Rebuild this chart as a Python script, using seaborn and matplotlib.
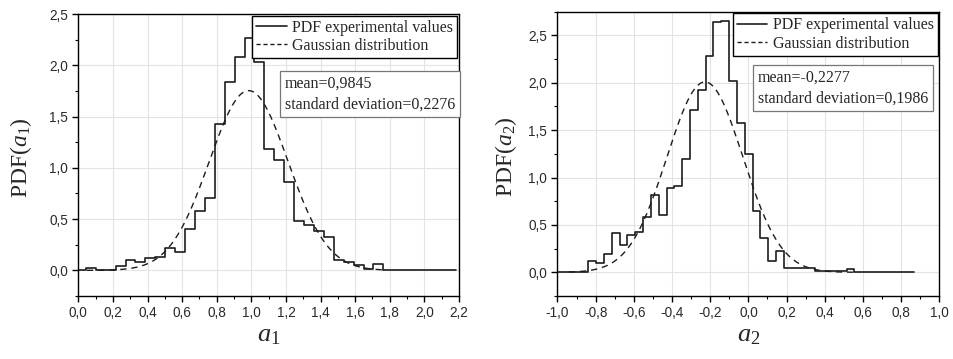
import numpy as np
import pandas as pd
import matplotlib
matplotlib.use("Agg")
import matplotlib.pyplot as plt
import seaborn as sns
from matplotlib.lines import Line2D
from matplotlib.ticker import MultipleLocator, FuncFormatter

# ---------------- data: panel a1 ----------------
a1_bin_start = 0.044
a1_bin_width = 0.0573
a1_pdf = [0.02, 0.0, 0.0, 0.04, 0.10, 0.085, 0.12, 0.135, 0.22, 0.18,
          0.40, 0.58, 0.71, 1.43, 1.84, 2.08, 2.27, 2.03, 1.185, 1.08,
          0.86, 0.48, 0.44, 0.38, 0.325, 0.105, 0.08, 0.05, 0.015, 0.065]
a1_line_extent = (0.0, 2.185)
a1_mean = 0.9845
a1_std = 0.2276
a1_gauss_range = (0.05, 1.76)
a1_xticks = [0.0, 0.2, 0.4, 0.6, 0.8, 1.0, 1.2, 1.4, 1.6, 1.8, 2.0, 2.2]

# ---------------- data: panel a2 ----------------
a2_bin_start = -0.839
a2_bin_width = 0.041
a2_pdf = [0.12, 0.10, 0.19, 0.41, 0.29, 0.39, 0.43, 0.58, 0.82, 0.60,
          0.89, 0.91, 1.20, 1.71, 1.92, 2.28, 2.64, 2.65, 2.02, 1.58,
          1.25, 0.65, 0.36, 0.12, 0.22, 0.05, 0.05, 0.05, 0.05, 0.01,
          0.01, 0.01, 0.01, 0.03]
a2_line_extent = (-1.0, 0.865)
a2_mean = -0.2277
a2_std = 0.1986
a2_gauss_range = (-0.94, 0.55)
a2_xticks = [-1.0, -0.8, -0.6, -0.4, -0.2, 0.0, 0.2, 0.4, 0.6, 0.8, 1.0]

legend_labels = ["PDF experimental values", "Gaussian distribution"]

sns.set_theme(style="white")
plt.rcParams["font.family"] = ["Liberation Sans", "DejaVu Sans"]
plt.rcParams["mathtext.fontset"] = "custom"
plt.rcParams["mathtext.rm"] = "Liberation Serif"
plt.rcParams["mathtext.it"] = "Liberation Serif:italic"

LINE = "#1c1c1c"
SERIF = ["Liberation Serif", "DejaVu Serif"]

fig = plt.figure(figsize=(9.54, 3.59), dpi=100)
ax1 = fig.add_axes([78.3 / 954, 1 - 296 / 359, (459 - 78.3) / 954, (296 - 14) / 359])
ax2 = fig.add_axes([557.5 / 954, 1 - 296 / 359, (939.3 - 557.5) / 954, (296 - 11.7) / 359])

comma = FuncFormatter(lambda v, p: ("%.1f" % v).replace(".", ",").replace("-0,0", "0,0"))


def draw_panel(ax, start, width, pdf, extent, mean, std, grange, xticks, ylim,
               ylabel, xlabel, text, text_xy, ylab_x):
    inner = [start + width * i for i in range(len(pdf) + 1)]
    edges = [extent[0]] + inner + [extent[1]]
    weights = [0.0] + list(pdf) + [0.0]
    centers = [0.5 * (edges[i] + edges[i + 1]) for i in range(len(edges) - 1)]
    hist_df = pd.DataFrame({"x": centers, "w": weights})
    sns.histplot(data=hist_df, x="x", weights="w", bins=edges, element="step",
                 fill=False, stat="count", color=LINE, linewidth=1.2, ax=ax)
    xg = np.linspace(grange[0], grange[1], 400)
    yg = np.exp(-0.5 * ((xg - mean) / std) ** 2) / (std * np.sqrt(2 * np.pi))
    sns.lineplot(x=xg, y=yg, ax=ax, color=LINE, linewidth=1.0,
                 linestyle=(0, (4.5, 3.5)))

    ax.set_xlim(xticks[0], xticks[-1])
    ax.set_ylim(*ylim)
    ax.xaxis.set_major_locator(MultipleLocator(0.2))
    ax.xaxis.set_minor_locator(MultipleLocator(0.1))
    ax.yaxis.set_major_locator(MultipleLocator(0.5))
    ax.yaxis.set_minor_locator(MultipleLocator(0.25))
    ax.xaxis.set_major_formatter(comma)
    ax.yaxis.set_major_formatter(comma)
    ax.grid(True, which="major", color="#e3e3e3", linewidth=0.8)
    ax.set_axisbelow(True)
    for s in ax.spines.values():
        s.set_visible(True)
        s.set_color("black")
        s.set_linewidth(1.0)
    ax.tick_params(which="major", direction="out", length=4, width=1,
                   colors="black", labelsize=9.8, pad=3.5, bottom=True, left=True)
    ax.tick_params(which="minor", direction="out", length=2.5, width=0.8,
                   colors="black", bottom=True, left=True)
    for lab in ax.get_xticklabels() + ax.get_yticklabels():
        lab.set_color("#2a2a2a")

    ax.set_ylabel(ylabel, fontsize=17, family=SERIF)
    ax.yaxis.set_label_coords(ylab_x, 0.49)
    ax.set_xlabel(xlabel, fontsize=19, family=SERIF, labelpad=3)

    handles = [Line2D([], [], color=LINE, linewidth=1.2),
               Line2D([], [], color=LINE, linewidth=1.0, linestyle=(0, (3, 2)))]
    leg = ax.legend(handles, legend_labels, loc="upper right",
                    prop={"family": SERIF, "size": 11.5}, frameon=True,
                    fancybox=False, edgecolor="black", framealpha=1,
                    borderaxespad=0.1, borderpad=0.25, labelspacing=0.15,
                    handlelength=1.9, handletextpad=0.35)
    leg.get_frame().set_linewidth(1.0)

    ax.text(text_xy[0], text_xy[1], text, transform=ax.transAxes,
            ha="left", va="top", family=SERIF, fontsize=11.5, linespacing=1.35,
            bbox=dict(boxstyle="square,pad=0.3", fc="white", ec="#777777", lw=0.9))


draw_panel(ax1, a1_bin_start, a1_bin_width, a1_pdf, a1_line_extent, a1_mean,
           a1_std, a1_gauss_range, a1_xticks, (-0.25, 2.5),
           r"PDF($a_1$)", r"$a_1$",
           "mean=0,9845\nstandard deviation=0,2276", (0.543, 0.78), -0.116)
draw_panel(ax2, a2_bin_start, a2_bin_width, a2_pdf, a2_line_extent, a2_mean,
           a2_std, a2_gauss_range, a2_xticks, (-0.25, 2.75),
           r"PDF($a_2$)", r"$a_2$",
           "mean=-0,2277\nstandard deviation=0,1986", (0.525, 0.795), -0.101)

fig.savefig("out.png", dpi=100)
